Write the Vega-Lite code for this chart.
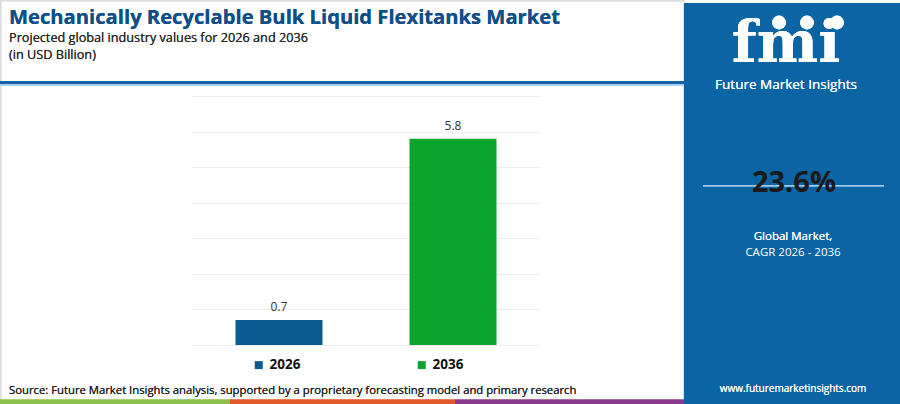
{
  "$schema": "https://vega.github.io/schema/vega-lite/v6.json",
  "width": 900,
  "height": 404,
  "autosize": {"type": "fit", "contains": "padding"},
  "padding": 0,
  "background": "white",
  "config": {"view": {"stroke": null}, "font": "Open Sans", "text": {"baseline": "alphabetic"}},
  "datasets": {
    "market": [
      {"year": "2026", "value": 0.7},
      {"year": "2036", "value": 5.8}
    ],
    "summary": [
      {"metric": "CAGR 2026 - 2036", "cagr": "23.6%"}
    ]
  },
  "data": {"name": "market"},
  "layer": [
    {
      "mark": {"type": "rect", "x": 0.75, "x2": 684, "y": 0.75, "y2": 403, "fill": null, "fillOpacity": 0, "stroke": "#dedede", "strokeWidth": 1.5},
      "encoding": {}
    },
    {
      "mark": {"type": "rect", "x": 684, "x2": 900, "y": 3, "y2": 404, "fill": "#0b64a4"},
      "encoding": {}
    },
    {
      "mark": {"type": "rect", "x": 0, "x2": 684, "y": 81, "y2": 84, "fill": "#1762a6"},
      "encoding": {}
    },
    {
      "mark": {"type": "rect", "x": 0, "x2": 684, "y": 84.3, "y2": 85.8, "fill": "#a3cdeb"},
      "encoding": {}
    },
    {
      "mark": {"type": "rect", "x": 0, "x2": 230, "y": 399.5, "y2": 404, "fill": "#8cc04b"},
      "encoding": {}
    },
    {
      "mark": {"type": "rect", "x": 230, "x2": 455, "y": 399.5, "y2": 404, "fill": "#e0592a"},
      "encoding": {}
    },
    {
      "mark": {"type": "rect", "x": 455, "x2": 684, "y": 399.5, "y2": 404, "fill": "#8b3a8f"},
      "encoding": {}
    },
    {
      "mark": {"type": "text", "x": 9, "y": 23.5, "align": "left", "baseline": "alphabetic", "text": "Mechanically Recyclable Bulk Liquid Flexitanks Market", "fontSize": 20.2, "fontWeight": "bold", "color": "#0f4f87"}
    },
    {
      "mark": {"type": "text", "x": 9, "y": 42, "align": "left", "baseline": "alphabetic", "text": "Projected global industry values for 2026 and 2036", "fontSize": 12.7, "color": "#2a2a2a"}
    },
    {
      "mark": {"type": "text", "x": 9, "y": 59, "align": "left", "baseline": "alphabetic", "text": "(in USD Billion)", "fontSize": 12.7, "color": "#2a2a2a"}
    },
    {
      "mark": {"type": "text", "x": 9, "y": 394, "align": "left", "baseline": "alphabetic", "text": "Source: Future Market Insights analysis, supported by a proprietary forecasting model and primary research", "fontSize": 11.3, "color": "#222222"}
    },
    {
      "mark": {"type": "bar"},
      "encoding": {
        "x": {
          "field": "year",
          "type": "nominal",
          "axis": null,
          "scale": {"range": [192, 540], "paddingInner": 0.5, "paddingOuter": 0.25}
        },
        "y": {
          "field": "value",
          "type": "quantitative",
          "scale": {"domain": [0, 7], "range": [345, 96], "nice": false},
          "axis": {
            "values": [0, 1, 2, 3, 4, 5, 6, 7],
            "grid": true,
            "gridColor": "#eeeeee",
            "gridWidth": 1,
            "domain": false,
            "ticks": false,
            "labels": false,
            "title": null,
            "minExtent": 0,
            "maxExtent": 0
          }
        },
        "color": {
          "field": "year",
          "type": "nominal",
          "scale": {"domain": ["2026", "2036"], "range": ["#0b5a8f", "#0aa52c"]},
          "legend": {
            "title": null,
            "orient": "none",
            "legendX": 252,
            "legendY": 358,
            "direction": "horizontal",
            "columns": 2,
            "columnPadding": 114,
            "padding": 0,
            "symbolType": "square",
            "symbolSize": 64,
            "symbolStrokeWidth": 0,
            "labelOffset": 4,
            "labelFontSize": 13.5,
            "labelFontWeight": "bold",
            "labelColor": "#111111",
            "labelFont": "Open Sans"
          }
        }
      }
    },
    {
      "mark": {"type": "text", "dy": -9, "baseline": "alphabetic", "fontSize": 12, "color": "#333333"},
      "encoding": {
        "x": {"field": "year", "type": "nominal"},
        "y": {"field": "value", "type": "quantitative"},
        "text": {"field": "value", "type": "quantitative", "format": ".1f"}
      }
    },
    {
      "mark": {"type": "text", "x": 786, "y": 62, "align": "center", "baseline": "alphabetic", "text": "fmi", "font": "DejaVu Serif", "fontSize": 58, "fontWeight": "bold", "color": "white"}
    },
    {
      "mark": {"type": "point", "x": 779, "y": 22.5, "shape": "circle", "size": 190, "filled": true, "color": "white", "opacity": 1},
      "encoding": {}
    },
    {
      "mark": {"type": "point", "x": 807, "y": 22.5, "shape": "circle", "size": 190, "filled": true, "color": "white", "opacity": 1},
      "encoding": {}
    },
    {
      "mark": {"type": "point", "x": 837, "y": 22.5, "shape": "circle", "size": 190, "filled": true, "color": "white", "opacity": 1},
      "encoding": {}
    },
    {
      "mark": {"type": "text", "x": 786, "y": 88.5, "align": "center", "baseline": "alphabetic", "text": "Future Market Insights", "fontSize": 13.5, "color": "white"}
    },
    {
      "mark": {"type": "rect", "x": 703, "x2": 884, "y": 185, "y2": 186.5, "fill": "#9ccbeb"},
      "encoding": {}
    },
    {
      "data": {"name": "summary"},
      "mark": {"type": "text", "x": 794, "y": 192, "align": "center", "baseline": "alphabetic", "fontSize": 29, "fontWeight": "bold", "color": "#1a1a1a"},
      "encoding": {"text": {"field": "cagr", "type": "nominal"}}
    },
    {
      "mark": {"type": "text", "x": 793, "y": 240, "align": "center", "baseline": "alphabetic", "text": "Global Market,", "fontSize": 11.5, "color": "white"}
    },
    {
      "data": {"name": "summary"},
      "mark": {"type": "text", "x": 793, "y": 255.5, "align": "center", "baseline": "alphabetic", "fontSize": 11.5, "color": "white"},
      "encoding": {"text": {"field": "metric", "type": "nominal"}}
    },
    {
      "mark": {"type": "text", "x": 793, "y": 392, "align": "center", "baseline": "alphabetic", "text": "www.futuremarketinsights.com", "fontSize": 10, "color": "white"}
    }
  ]
}
